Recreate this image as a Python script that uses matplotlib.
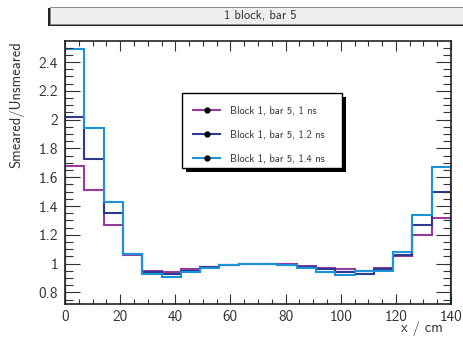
import numpy as np
import matplotlib.pyplot as plt
from matplotlib.lines import Line2D
from matplotlib.patches import Rectangle
from matplotlib.ticker import MultipleLocator, FuncFormatter

plt.rcParams['font.family'] = ['cmss10', 'DejaVu Sans']
plt.rcParams['axes.formatter.use_mathtext'] = True

# bin edges (cm), 20 bins of 7 cm
edges = np.linspace(0, 140, 21)

ratio_1ns = [1.68, 1.51, 1.27, 1.06, 0.95, 0.94, 0.96, 0.98, 0.99, 1.00,
             1.00, 0.995, 0.985, 0.97, 0.96, 0.95, 0.97, 1.05, 1.20, 1.32]
ratio_12ns = [2.02, 1.73, 1.35, 1.07, 0.94, 0.93, 0.95, 0.975, 0.99, 1.00,
              1.00, 0.99, 0.98, 0.96, 0.94, 0.93, 0.96, 1.06, 1.27, 1.50]
ratio_14ns = [2.49, 1.94, 1.43, 1.07, 0.93, 0.91, 0.94, 0.97, 0.99, 1.00,
              1.00, 0.99, 0.97, 0.94, 0.92, 0.95, 0.95, 1.08, 1.34, 1.67]

labels = ['Block 1, bar 5, 1 ns', 'Block 1, bar 5, 1.2 ns', 'Block 1, bar 5, 1.4 ns']
colors = ['#963c9e', '#2e3a92', '#1b93d6']

W, H = 463, 339
fig = plt.figure(figsize=(W / 100, H / 100), dpi=100)
ax = fig.add_axes([65 / W, 1 - 304 / H, (451 - 65) / W, (304 - 41) / H])

for vals, c in zip([ratio_1ns, ratio_12ns, ratio_14ns], colors):
    ax.stairs(vals, edges, color=c, lw=1.5)

ax.set_xlim(0, 140)
ax.set_ylim(0.72, 2.546)
ax.xaxis.set_major_locator(MultipleLocator(20))
ax.xaxis.set_minor_locator(MultipleLocator(5))
ax.yaxis.set_major_locator(MultipleLocator(0.2))
ax.yaxis.set_minor_locator(MultipleLocator(0.05))
ax.yaxis.set_major_formatter(FuncFormatter(lambda v, p: '%g' % round(v, 2)))
ax.xaxis.set_major_formatter(FuncFormatter(lambda v, p: '%g' % v))
ax.tick_params(which='both', direction='in', top=True, right=True, labelsize=11,
               color='#333333', width=0.8, labelcolor='#333333')
ax.tick_params(axis='y', which='major', length=11, pad=5)
ax.tick_params(axis='y', which='minor', length=5.5)
ax.tick_params(axis='x', which='major', length=7, pad=4)
ax.tick_params(axis='x', which='minor', length=3.5)
for s in ax.spines.values():
    s.set_linewidth(1.2)
    s.set_color('#222222')

ax.set_ylabel('Smeared/Unsmeared', loc='top', fontsize=10.5, color='#333333', labelpad=10)
ax.set_xlabel('x / cm', fontsize=10.5, color='#333333', ha='right', va='center')
ax.xaxis.set_label_coords((443 - 65) / 386, -(329 - 304) / 263)

# legend box with black shadow
fig.patches.append(Rectangle((186 / W, 1 - 172 / H), 160 / W, 75 / H,
                             transform=fig.transFigure, facecolor='black', edgecolor='none', zorder=5))
fig.patches.append(Rectangle((182 / W, 1 - 168 / H), 160 / W, 75 / H,
                             transform=fig.transFigure, facecolor='white', edgecolor='black',
                             lw=1.0, zorder=6))
handles = [Line2D([], [], color=c, lw=1.5, marker='o', ms=3.5, mfc='black', mec='black')
           for c in colors]
leg = fig.legend(handles, labels, loc='upper left', bbox_to_anchor=(184 / W, 1 - 96 / H),
                 frameon=False, fontsize=7.5, handlelength=2.6, labelspacing=1.35,
                 handletextpad=0.9, borderpad=0.4, labelcolor='#333333')
leg.set_zorder(7)

# title box with shadow
fig.patches.append(Rectangle((48 / W, 1 - 26 / H), 420 / W, 18 / H,
                             transform=fig.transFigure, facecolor='#222222', edgecolor='none', zorder=5))
fig.patches.append(Rectangle((50 / W, 1 - 24 / H), 420 / W, 17 / H,
                             transform=fig.transFigure, facecolor='#eeeeee', edgecolor='#888888',
                             lw=0.7, zorder=6))
fig.text(260 / W, 1 - 16 / H, '1 block, bar 5', ha='center', va='center',
         fontsize=9, color='#333333', zorder=7)

fig.savefig('out.png', dpi=100)
